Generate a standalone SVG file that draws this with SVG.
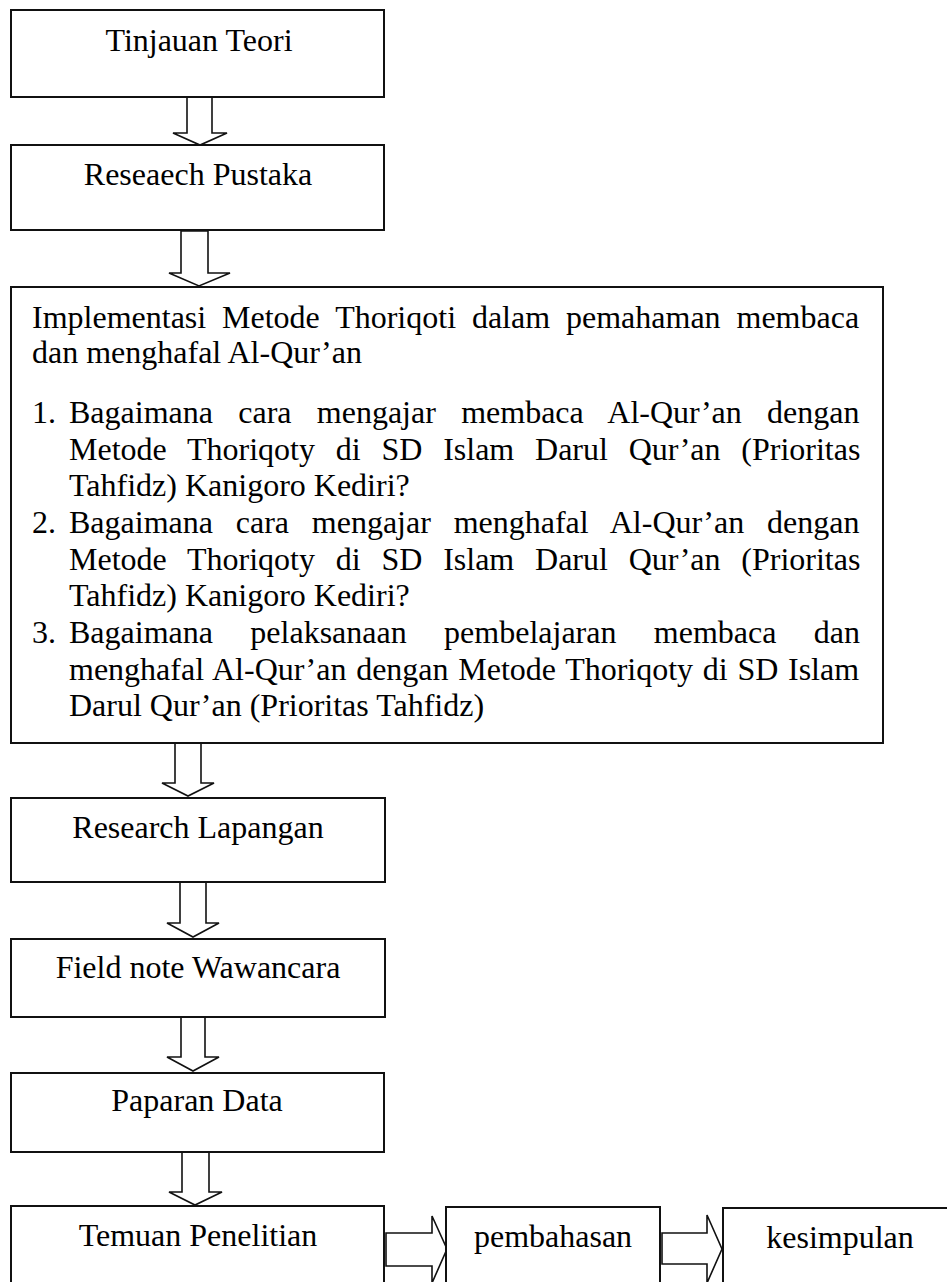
<svg xmlns="http://www.w3.org/2000/svg" width="947" height="1282" viewBox="0 0 947 1282">
<style>
.box{fill:#fff;stroke:#111;stroke-width:2}
.arr{fill:#fff;stroke:#111;stroke-width:1.6;stroke-linejoin:miter}
text{font-family:"Liberation Serif","Times New Roman",serif;font-size:32px;fill:#000}
.c{text-anchor:middle}
</style>
<rect width="947" height="1282" fill="#fff"/>
<g id="connectors">
<polygon class="arr" points="187,97 212,97 212,133 227,133 200,145 173,133 187,133"/>
<polygon class="arr" points="181,231 208,231 208,273 230,273 199,286 169,273 181,273"/>
<polygon class="arr" points="175,743 201,743 201,783 214,783 188,796 162,783 175,783"/>
<polygon class="arr" points="180,882 206,882 206,923 219,923 193,937 167,923 180,923"/>
<polygon class="arr" points="181,1017 205,1017 205,1057 219,1057 193,1071 167,1057 181,1057"/>
<polygon class="arr" points="182,1152 209,1152 209,1192 222,1192 195,1205 169,1192 182,1192"/>
<polygon class="arr" points="386,1233 432,1233 432,1216 447,1249 432,1283 432,1266 386,1266"/>
<polygon class="arr" points="662,1233 707,1233 707,1215 722,1249 707,1283 707,1264 662,1264"/>
</g>
<g id="n1"><rect class="box" x="11" y="10" width="373" height="87"/><text class="c" x="199" y="51">Tinjauan Teori</text></g>
<g id="n2"><rect class="box" x="11" y="145" width="373" height="85"/><text class="c" x="198" y="185">Reseaech Pustaka</text></g>
<g id="n3"><rect class="box" x="11" y="287" width="872" height="456"/>
<text x="32" y="328" word-spacing="7.9">Implementasi Metode Thoriqoti dalam pemahaman membaca</text>
<text x="32" y="363">dan menghafal Al-Qur’an</text>
<text x="32" y="423">1.</text>
<text x="69" y="423" word-spacing="17.3">Bagaimana cara mengajar membaca Al-Qur’an dengan</text>
<text x="69" y="459.5" word-spacing="12.8">Metode Thoriqoty di SD Islam Darul Qur’an (Prioritas</text>
<text x="69" y="496">Tahfidz) Kanigoro Kediri?</text>
<text x="32" y="533">2.</text>
<text x="69" y="533" word-spacing="14.8">Bagaimana cara mengajar menghafal Al-Qur’an dengan</text>
<text x="69" y="569.5" word-spacing="12.8">Metode Thoriqoty di SD Islam Darul Qur’an (Prioritas</text>
<text x="69" y="606">Tahfidz) Kanigoro Kediri?</text>
<text x="32" y="643">3.</text>
<text x="69" y="643" word-spacing="29.4">Bagaimana pelaksanaan pembelajaran membaca dan</text>
<text x="69" y="679.5" word-spacing="1.7">menghafal Al-Qur’an dengan Metode Thoriqoty di SD Islam</text>
<text x="69" y="716">Darul Qur’an (Prioritas Tahfidz)</text>
</g>
<g id="n4"><rect class="box" x="11" y="798" width="374" height="84"/><text class="c" x="198" y="838">Research Lapangan</text></g>
<g id="n5"><rect class="box" x="11" y="939" width="374" height="78"/><text class="c" x="198" y="978">Field note Wawancara</text></g>
<g id="n6"><rect class="box" x="11" y="1073" width="373" height="79"/><text class="c" x="197" y="1111">Paparan Data</text></g>
<g id="n7"><rect class="box" x="11" y="1206" width="373" height="90"/><text class="c" x="198" y="1246">Temuan Penelitian</text></g>
<g id="n8"><rect class="box" x="446" y="1207" width="214" height="90"/><text class="c" x="553" y="1247">pembahasan</text></g>
<g id="n9"><rect class="box" x="723" y="1208" width="240" height="90"/><text class="c" x="840" y="1248">kesimpulan</text></g>
</svg>
